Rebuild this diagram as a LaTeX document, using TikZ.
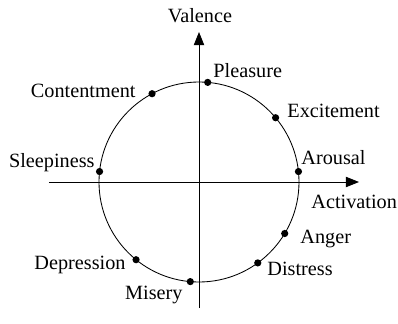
\documentclass[tikz,border=0pt]{standalone}
\usepackage{fontspec}
\setmainfont{Liberation Serif}
\usepackage{tikz}
\usetikzlibrary{arrows.meta}

\begin{document}
\begin{tikzpicture}[>={Triangle[length=0.33cm,width=0.26cm]},line width=0.6pt,
  lbl/.style={inner sep=0pt,font=\fontsize{14.4}{17}\selectfont}]
  \useasboundingbox (-4.975,-3.525) rectangle (4.975,4.55);
  \coordinate (o) at (0,0);
  \coordinate (xs) at (-3.75,0);
  \coordinate (xe) at (4.0,0);
  \coordinate (ys) at (0,-3.15);
  \coordinate (ye) at (0,3.75);
  \draw[->] (xs) -- (xe);
  \draw[->] (ys) -- (ye);
  \draw (o) circle (2.5);
  \node[lbl,anchor=base west] (act) at (2.8,-0.65) {Activation};
  \node[lbl,anchor=base] (val) at (0.025,4.0) {Valence};
  \foreach \a/\t/\pos/\x/\y in {85/Pleasure/base west/0.35/2.625,
      40/Excitement/base west/2.2/1.625,6/Arousal/base west/2.55/0.45,
      118/Contentment/base east/-1.575/2.125,174/Sleepiness/base east/-2.6/0.375,
      231/Depression/base east/-1.825/-2.175,265/Misery/base east/-0.4/-2.925,
      306/Distress/base west/1.7/-2.325,329/Anger/base west/2.525/-1.525}{
    \coordinate (d-\t) at (\a:2.5);
    \fill (d-\t) circle (0.09);
    \node[lbl,anchor=\pos] (l-\t) at (\x,\y) {\t};
  }
\end{tikzpicture}
\end{document}
